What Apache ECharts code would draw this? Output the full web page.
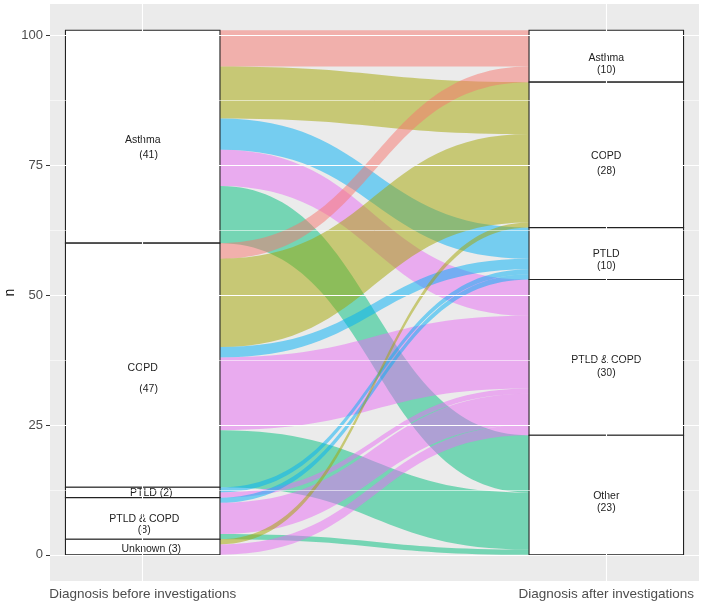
<!DOCTYPE html>
<html>
<head>
<meta charset="utf-8">
<script src="https://cdn.jsdelivr.net/npm/echarts@6/dist/echarts.min.js"></script>
<style>
html,body{margin:0;padding:0;background:#fff;}
#chart{width:702px;height:609px;}
</style>
</head>
<body>
<div id="chart"></div>
<script>
// ---- data ----
const beforeCats = ['Asthma', 'COPD', 'PTLD', 'PTLD & COPD', 'Unknown'];
const afterCats = ['Asthma', 'COPD', 'PTLD', 'PTLD & COPD', 'Other'];
// counts flowing from each "before" stratum to the after strata (in afterCats order)
const fromAsthma = [7, 10, 6, 7, 11];
const fromCOPD = [3, 17, 2, 14, 11];
const fromPTLD = [0, 0, 1, 1, 0];
const fromPTLDCOPD = [0, 0, 1, 6, 1];
const fromUnknown = [0, 1, 0, 2, 0];
const yTicks = [0, 25, 50, 75, 100];
const yMinorTicks = [12.5, 37.5, 62.5, 87.5];
const xPositions = [1, 2];
const xLabels = ['Diagnosis before investigations', 'Diagnosis after investigations'];
const yName = 'n';

// ---- styles ----
const afterColors = ['#F8766D', '#A3A500', '#00B0F6', '#E76BF3', '#00BF7D'];
const flowMatrix = [fromAsthma, fromCOPD, fromPTLD, fromPTLDCOPD, fromUnknown];
const FONT = 'Liberation Sans, Arial, sans-serif';

const chart = echarts.init(document.getElementById('chart'), null, {renderer: 'canvas'});

const gridLines = [];
yTicks.forEach(v => gridLines.push({yAxis: v, lineStyle: {color: '#ffffff', width: 1.1, type: 'solid'}}));
yMinorTicks.forEach(v => gridLines.push({yAxis: v, lineStyle: {color: '#ffffff', width: 0.55, type: 'solid'}}));
xPositions.forEach(v => gridLines.push({xAxis: v, lineStyle: {color: '#ffffff', width: 1.1, type: 'solid'}}));

const baseOption = {
  animation: false,
  backgroundColor: '#ffffff',
  grid: {left: 50, right: 3, top: 4, bottom: 28, show: true, backgroundColor: '#EBEBEB', borderWidth: 0,
         containLabel: false, outerBoundsMode: 'none'},
  xAxis: {
    type: 'value', min: 0.8, max: 2.2,
    axisLine: {show: false},
    splitLine: {show: false},
    axisTick: {show: true, customValues: xPositions, length: 3, lineStyle: {color: '#333', width: 1}},
    axisLabel: {
      show: true, customValues: xPositions, margin: 6,
      color: '#4D4D4D', fontSize: 13.5, fontFamily: FONT,
      formatter: v => xLabels[xPositions.indexOf(Math.round(v))] || ''
    }
  },
  yAxis: {
    type: 'value', min: -5.05, max: 106.05,
    name: yName, nameLocation: 'middle', nameGap: 33, nameRotate: 90, nameMoveOverlap: false,
    nameTextStyle: {color: '#000', fontSize: 14, fontFamily: FONT},
    axisLine: {show: false},
    splitLine: {show: false},
    axisTick: {show: true, customValues: yTicks, length: 4, lineStyle: {color: '#333', width: 1}},
    axisLabel: {show: true, customValues: yTicks, margin: 7, color: '#4D4D4D', fontSize: 13, fontFamily: FONT}
  },
  series: [{
    type: 'line', data: [], z: 1, silent: true,
    markLine: {silent: true, symbol: 'none', animation: false, label: {show: false}, emphasis: {disabled: true}, data: gridLines}
  }]
};
chart.setOption(baseOption);

// position sankey on the axis scales
const pTopLeft = chart.convertToPixel({gridIndex: 0}, [1 - 1/6, 101]);
const pBotRight = chart.convertToPixel({gridIndex: 0}, [2 + 1/6, 0]);
const pNodeRight = chart.convertToPixel({gridIndex: 0}, [1 + 1/6, 0]);
const W = chart.getWidth(), H = chart.getHeight();

const beforeTotals = flowMatrix.map(r => r.reduce((a, b) => a + b, 0));
const afterTotals = afterCats.map((_, j) => flowMatrix.reduce((a, r) => a + r[j], 0));

// label placement inside each stratum box (style only)
const leftLabelStyle = [
  {two: true, lh: 15, pos: ['50%', '55%'], indent: '    '},
  {two: true, lh: 21, pos: ['50%', '55.5%'], indent: '    '},
  {two: false, lh: 13, pos: ['55.5%', '55%']},
  {two: true, lh: 11, pos: ['51%', '64%'], indent: ''},
  {two: false, lh: 13, pos: ['55.5%', '60%']}
];
const rightLabelStyle = [
  {lh: 12, pos: ['50%', '64%']}, {lh: 15, pos: ['50%', '56%']}, {lh: 11.5, pos: ['50%', '62%']},
  {lh: 12.5, pos: ['50%', '56%']}, {lh: 11.5, pos: ['50%', '56%']}
];

const nodes = [];
beforeCats.forEach((c, i) => {
  const s = leftLabelStyle[i];
  const txt = s.two ? c + '\n' + s.indent + '(' + beforeTotals[i] + ')' : c + ' (' + beforeTotals[i] + ')';
  nodes.push({
    name: 'B_' + c,
    label: {formatter: txt, lineHeight: s.lh, position: s.pos, align: 'center', verticalAlign: 'middle'}
  });
});
afterCats.forEach((c, j) => {
  const s = rightLabelStyle[j];
  nodes.push({
    name: 'A_' + c,
    label: {formatter: c + '\n(' + afterTotals[j] + ')', lineHeight: s.lh, position: s.pos, align: 'center', verticalAlign: 'middle'}
  });
});

const links = [];
flowMatrix.forEach((row, i) => {
  row.forEach((v, j) => {
    if (v > 0) {
      links.push({
        source: 'B_' + beforeCats[i], target: 'A_' + afterCats[j], value: v,
        lineStyle: {color: afterColors[j], opacity: 0.5}
      });
    }
  });
});

chart.setOption({
  series: [baseOption.series[0], {
    type: 'sankey',
    z: 3,
    left: pTopLeft[0],
    top: pTopLeft[1],
    right: W - pBotRight[0],
    bottom: H - pBotRight[1],
    nodeWidth: pNodeRight[0] - pTopLeft[0],
    nodeGap: 0,
    layoutIterations: 0,
    draggable: false,
    silent: true,
    emphasis: {disabled: true},
    itemStyle: {color: '#ffffff', borderColor: '#222', borderWidth: 1.1},
    lineStyle: {curveness: 0.5, opacity: 0.5},
    label: {color: '#222', fontSize: 10.5, fontFamily: FONT, overflow: 'none'},
    labelLayout: {hideOverlap: false},
    data: nodes,
    links: links
  }]
});
</script>
</body>
</html>
